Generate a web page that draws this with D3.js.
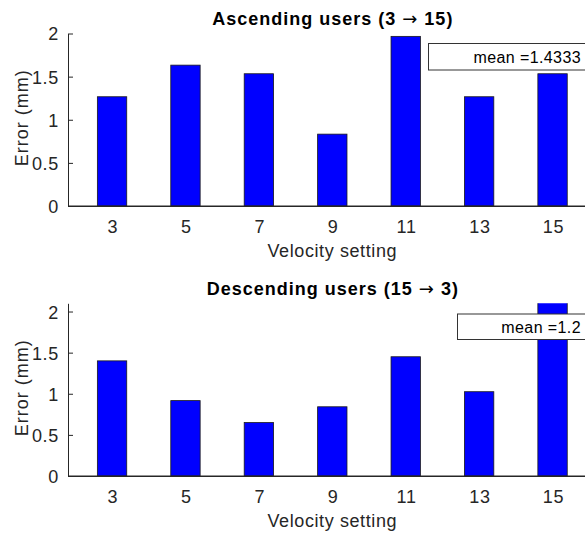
<!DOCTYPE html>
<html>
<head>
<meta charset="utf-8">
<script src="https://cdn.jsdelivr.net/npm/d3@7"></script>
<style>
  html, body { margin: 0; padding: 0; background: #fff; }
  svg { display: block; font-family: "Liberation Sans", Arial, Helvetica, sans-serif; }
</style>
</head>
<body>
<svg id="chart" width="585" height="538"></svg>
<script>
// ---- data ----
const velocities = [3, 5, 7, 9, 11, 13, 15];
const ascendingErrors = [1.2667, 1.6333, 1.5333, 0.8333, 1.9667, 1.2667, 1.5333];
const descendingErrors = [1.4, 0.9167, 0.65, 0.8417, 1.45, 1.025, 2.1167];
const yTicks = [0, 0.5, 1, 1.5, 2];
const titleParts = [["Ascending users (3 ", "\u2192", " 15)"], ["Descending users  (15 ", "\u2192", " 3)"]];
const xLabel = "Velocity setting";
const yLabel = "Error (mm)";
const yLimits = [[0, 2], [0, 2.1]];

// ---- layout ----
const W = 585, H = 538;
const axisColor = "#262626";
const svg = d3.select("#chart");

const panels = [
  { values: ascendingErrors, title: titleParts[0], ylim: yLimits[0],
    top: 33.5, bottom: 206, titleY: 25, tickY: 232.5, labelY: 257,
    box: { x: 428.5, y: 43.5, h: 26.5, textY: 63 } },
  { values: descendingErrors, title: titleParts[1], ylim: yLimits[1],
    top: 303.3, bottom: 476, titleY: 295, tickY: 502.5, labelY: 527,
    box: { x: 457.5, y: 314, h: 25.5, textY: 333 } }
];

const left = 68, right = 596.6;
const x = d3.scaleLinear().domain([1.8, 16.2]).range([left, right]);
const barW = x(0.8) - x(0);
const fmt = d3.format(".5~g");

panels.forEach((p, i) => {
  const g = svg.append("g");
  const y = d3.scaleLinear().domain(p.ylim).range([p.bottom, p.top]);

  const clipId = "clip" + i;
  svg.append("defs").append("clipPath").attr("id", clipId)
    .append("rect").attr("x", left).attr("y", p.top)
    .attr("width", right - left).attr("height", p.bottom - p.top);

  const yAxis = d3.axisLeft(y).tickValues(yTicks).tickSizeInner(-5).tickSizeOuter(0)
    .tickPadding(9).tickFormat(d3.format("~g"));
  const ga = g.append("g").attr("transform", `translate(${left},0)`).call(yAxis);
  ga.select(".domain").attr("stroke", axisColor).attr("stroke-width", 1);
  ga.selectAll(".tick line").attr("stroke", axisColor);
  ga.selectAll(".tick text").attr("fill", axisColor).attr("font-size", 18)
    .attr("letter-spacing", "0.7px").attr("dy", "0.36em");

  const xAxis = d3.axisBottom(x).tickValues(velocities).tickSizeInner(-5).tickSizeOuter(0)
    .tickPadding(0).tickFormat(d3.format("d"));
  const gx = g.append("g").attr("transform", `translate(0,${p.bottom})`).call(xAxis);
  gx.select(".domain").attr("stroke", axisColor).attr("stroke-width", 1);
  gx.selectAll(".tick line").attr("stroke", axisColor);
  gx.selectAll(".tick text").attr("fill", axisColor).attr("font-size", 18)
    .attr("letter-spacing", "0.7px").attr("y", p.tickY - p.bottom).attr("dy", 0)
    .attr("dx", "0.35px");

  // bars
  g.append("g").attr("clip-path", `url(#${clipId})`)
    .selectAll("rect").data(velocities.map((v, k) => ({ v, e: p.values[k] })))
    .join("rect")
    .attr("x", d => x(d.v) - barW / 2)
    .attr("width", barW)
    .attr("y", d => y(d.e))
    .attr("height", d => y(0) - y(d.e))
    .attr("fill", "#0000ff")
    .attr("stroke", "#1a1a1a")
    .attr("stroke-width", 0.8);

  g.append("line").attr("x1", left).attr("x2", right)
    .attr("y1", p.bottom).attr("y2", p.bottom)
    .attr("stroke", axisColor).attr("stroke-width", 1);

  // title
  const t = g.append("text").attr("x", (left + right) / 2 + 0.5).attr("y", p.titleY)
    .attr("text-anchor", "middle").attr("font-size", 18).attr("font-weight", "bold")
    .attr("letter-spacing", "1px").attr("fill", "#000");
  t.append("tspan").text(p.title[0]);
  t.append("tspan").attr("font-family", "DejaVu Sans").attr("font-weight", "normal")
    .attr("font-size", 18).text(p.title[1]);
  t.append("tspan").text(p.title[2]);

  // x label
  g.append("text").attr("x", (left + right) / 2).attr("y", p.labelY)
    .attr("text-anchor", "middle").attr("font-size", 18)
    .attr("letter-spacing", "0.6px").attr("fill", axisColor).text(xLabel);

  // y label
  const cy = (p.top + p.bottom) / 2 - 2;
  g.append("text").attr("transform", `translate(27.5,${cy}) rotate(-90)`)
    .attr("text-anchor", "middle").attr("font-size", 18)
    .attr("letter-spacing", "1px").attr("fill", axisColor).text(yLabel);

  // mean annotation
  const m = d3.mean(p.values);
  g.append("rect").attr("x", p.box.x).attr("y", p.box.y)
    .attr("width", W + 20 - p.box.x).attr("height", p.box.h)
    .attr("fill", "#fff").attr("stroke", "#333").attr("stroke-width", 1);
  g.append("text").attr("x", 581).attr("y", p.box.textY)
    .attr("text-anchor", "end").attr("font-size", 16)
    .attr("letter-spacing", "0.4px").attr("fill", "#000")
    .text("mean =" + fmt(m));
});
</script>
</body>
</html>
